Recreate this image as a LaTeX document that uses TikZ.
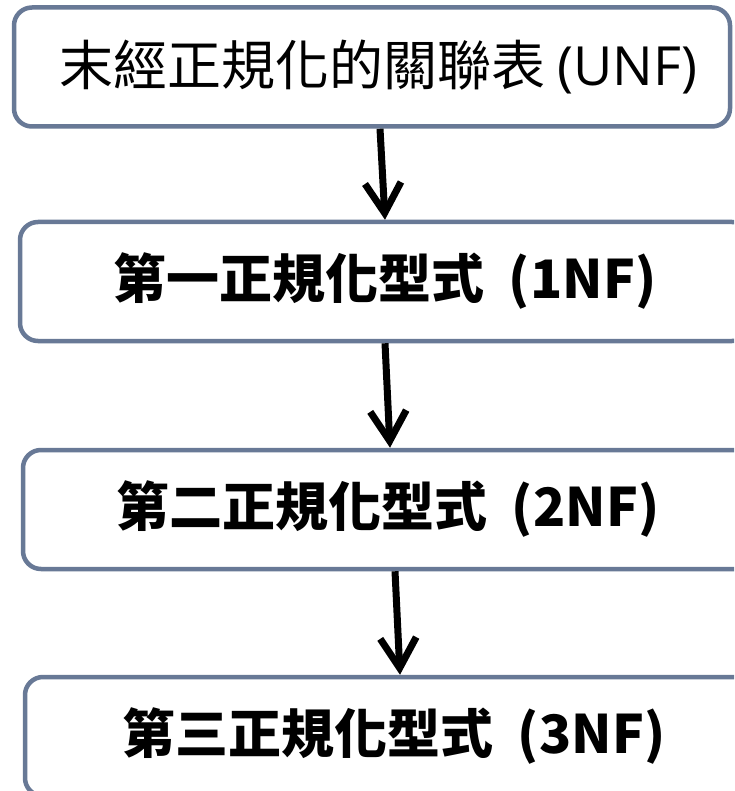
\documentclass[tikz,border=0pt]{standalone}
\usepackage{fontspec}
\newfontfamily\cjk{Noto Sans CJK TC}
\newfontfamily\latinsans{Open Sans}
\usetikzlibrary{arrows.meta}
\definecolor{boxborder}{RGB}{104,121,150}
\begin{document}
\begin{tikzpicture}[x=1pt,y=-1pt,
  box/.style={draw=boxborder, line width=4.5pt, rounded corners=18pt, fill=white,
    minimum height=119pt, inner sep=0pt, font=\cjk},
  titlebox/.style={box, font=\cjk\fontsize{54}{58}\selectfont},
  nfbox/.style={box, font=\cjk\bfseries\fontsize{53}{60}\selectfont},
  arr/.style={line width=7pt, -{Straight Barb[length=30pt, width=36pt, line width=7pt]}}]
\useasboundingbox (0,0) rectangle (734,791);
\clip (0,0) rectangle (734,791);
\fill[white] (0,0) rectangle (734,791);
\node[titlebox, minimum width=716pt] (unf) at (372,67) {\hspace*{12pt}末經正規化的關聯表 {\latinsans (UNF)}};
\node[nfbox, minimum width=730pt] (nf1) at (385,281.5) {第一正規化型式\ \ (1NF)};
\node[nfbox, minimum width=730pt] (nf2) at (388,509.5) {第二正規化型式\ \ (2NF)};
\node[nfbox, minimum width=738pt] (nf3) at (394,736.5) {第三正規化型式\ \ (3NF)};
\draw[arr] ([xshift=8pt]unf.south) -- (nf1.north);
\draw[arr] (nf1.south) -- ([xshift=2pt]nf2.north);
\draw[arr] ([xshift=7pt]nf2.south) -- ([xshift=6pt]nf3.north);
\end{tikzpicture}
\end{document}
